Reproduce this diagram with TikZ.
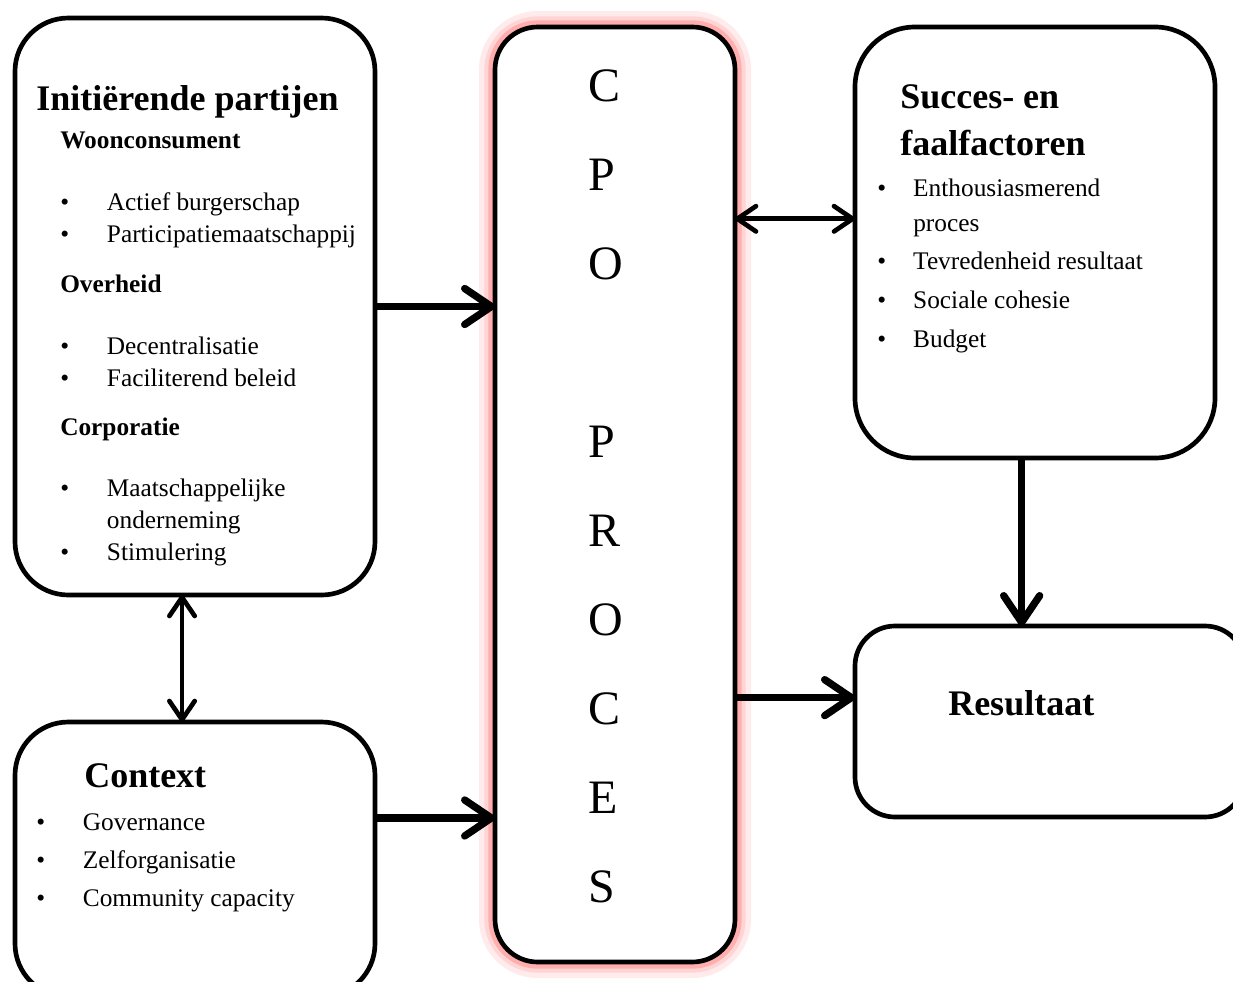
\documentclass[tikz,border=0pt]{standalone}
\usepackage{fontspec}
\setmainfont{Liberation Serif}
\usetikzlibrary{arrows.meta, calc, backgrounds}
\newcommand{\bitem}[2][35pt]{\makebox[#1][l]{\textbullet}#2}

\begin{document}
\begin{tikzpicture}[
    x=0.75pt, y=-0.75pt,
    box/.style={draw=black, fill=white, line width=3.5pt, rounded corners=#1, inner sep=0pt, outer sep=0pt},
    box/.default=40pt,
    head/.style={font=\fontsize{27}{35}\selectfont\bfseries, anchor=base west, inner sep=0pt, align=left},
    sub/.style={font=\fontsize{19}{24}\selectfont\bfseries, anchor=base west, inner sep=0pt},
    lst/.style={font=\fontsize{19}{24}\selectfont, anchor=base west, inner sep=0pt, align=left},
    flow/.style={-{Straight Barb[length=20pt, width=27pt, round]}, line width=5.5pt},
    link/.style={{Straight Barb[length=14pt, width=19pt, round]}-{Straight Barb[length=14pt, width=19pt, round]}, line width=3.5pt},
  ]
  \useasboundingbox (0,0) rectangle (1233,982);
  % ---- boxes
  \node[box=40pt, minimum width=270pt, minimum height=432.75pt] (init) at (195,306.5) {};
  \node[box=40pt, minimum width=270pt, minimum height=206.25pt] (ctx) at (195,859.5) {};
  \node[box=32pt, minimum width=180pt, minimum height=701.25pt] (cpo) at (615,494.5) {};
  \node[box=45pt, minimum width=270pt, minimum height=323.25pt] (suc) at (1035,242.5) {};
  \node[box=30pt, minimum width=292.5pt, minimum height=143.25pt] (res) at (1050,721.5) {};
  % ---- glow round the process
  \begin{scope}[on background layer]
    \draw[red!8, line width=24pt, rounded corners=32pt] (cpo.north west) rectangle (cpo.south east);
    \draw[red!17, line width=16pt, rounded corners=32pt] (cpo.north west) rectangle (cpo.south east);
    \draw[red!32, line width=10pt, rounded corners=32pt] (cpo.north west) rectangle (cpo.south east);
  \end{scope}
  % ---- texts (base = last line)
  \node[head] (initt) at (36,110) {Initiërende partijen};
  \node[sub] (woon) at (60,148) {Woonconsument};
  \node[lst] (woonl) at (60,242) {\bitem{Actief burgerschap}\\ \bitem{Participatiemaatschappij}};
  \node[sub] (over) at (60,292) {Overheid};
  \node[lst] (overl) at (60,386) {\bitem{Decentralisatie}\\ \bitem{Faciliterend beleid}};
  \node[sub] (corp) at (60,435) {Corporatie};
  \node[lst] (corpl) at (60,560) {\bitem{Maatschappelijke}\\ \makebox[35pt]{}onderneming\\ \bitem{Stimulering}};
  \node[head] (ctxt) at (84,787) {Context};
  \node[lst, font=\fontsize{19}{28.5}\selectfont] (ctxl) at (36,906) {\bitem{Governance}\\ \bitem{Zelforganisatie}\\ \bitem{Community capacity}};
  \node[lst, font=\fontsize{36}{66.75}\selectfont] (cpot) at (588,902) {C\\P\\O\\[66.75pt]P\\R\\O\\C\\E\\S};
  \node[head] (suct) at (900,155) {Succes- en\\faalfactoren};
  \node[lst, font=\fontsize{19}{26}\selectfont] (sucl) at (877,347) {\bitem[27pt]{Enthousiasmerend}\\ \makebox[27pt]{}proces\\[3pt] \bitem[27pt]{Tevredenheid resultaat}\\[3pt] \bitem[27pt]{Sociale cohesie}\\[3pt] \bitem[27pt]{Budget}};
  \node[head] (rest) at (948,715) {Resultaat};
  % ---- arrows
  \coordinate (sucin) at ($(suc.north west)!0.445!(suc.south west)$);
  \coordinate (resin) at ($(res.north west)!0.375!(res.south west)$);
  \coordinate (ctxout) at ($(ctx.north east)!0.349!(ctx.south east)$);
  \coordinate (initdn) at ($(init.south west)!0.464!(init.south east)$);
  \coordinate (sucdn) at ($(suc.south west)!0.463!(suc.south east)$);
  \draw[flow] (init.east) -- (init.east -| cpo.west);
  \draw[flow] (ctxout) -- (ctxout -| cpo.west);
  \draw[flow] (cpo.east |- resin) -- (resin);
  \draw[flow] (sucdn) -- (sucdn |- res.north);
  \draw[link] (cpo.east |- sucin) -- (sucin);
  \draw[link] (initdn) -- (initdn |- ctx.north);
\end{tikzpicture}
\end{document}
